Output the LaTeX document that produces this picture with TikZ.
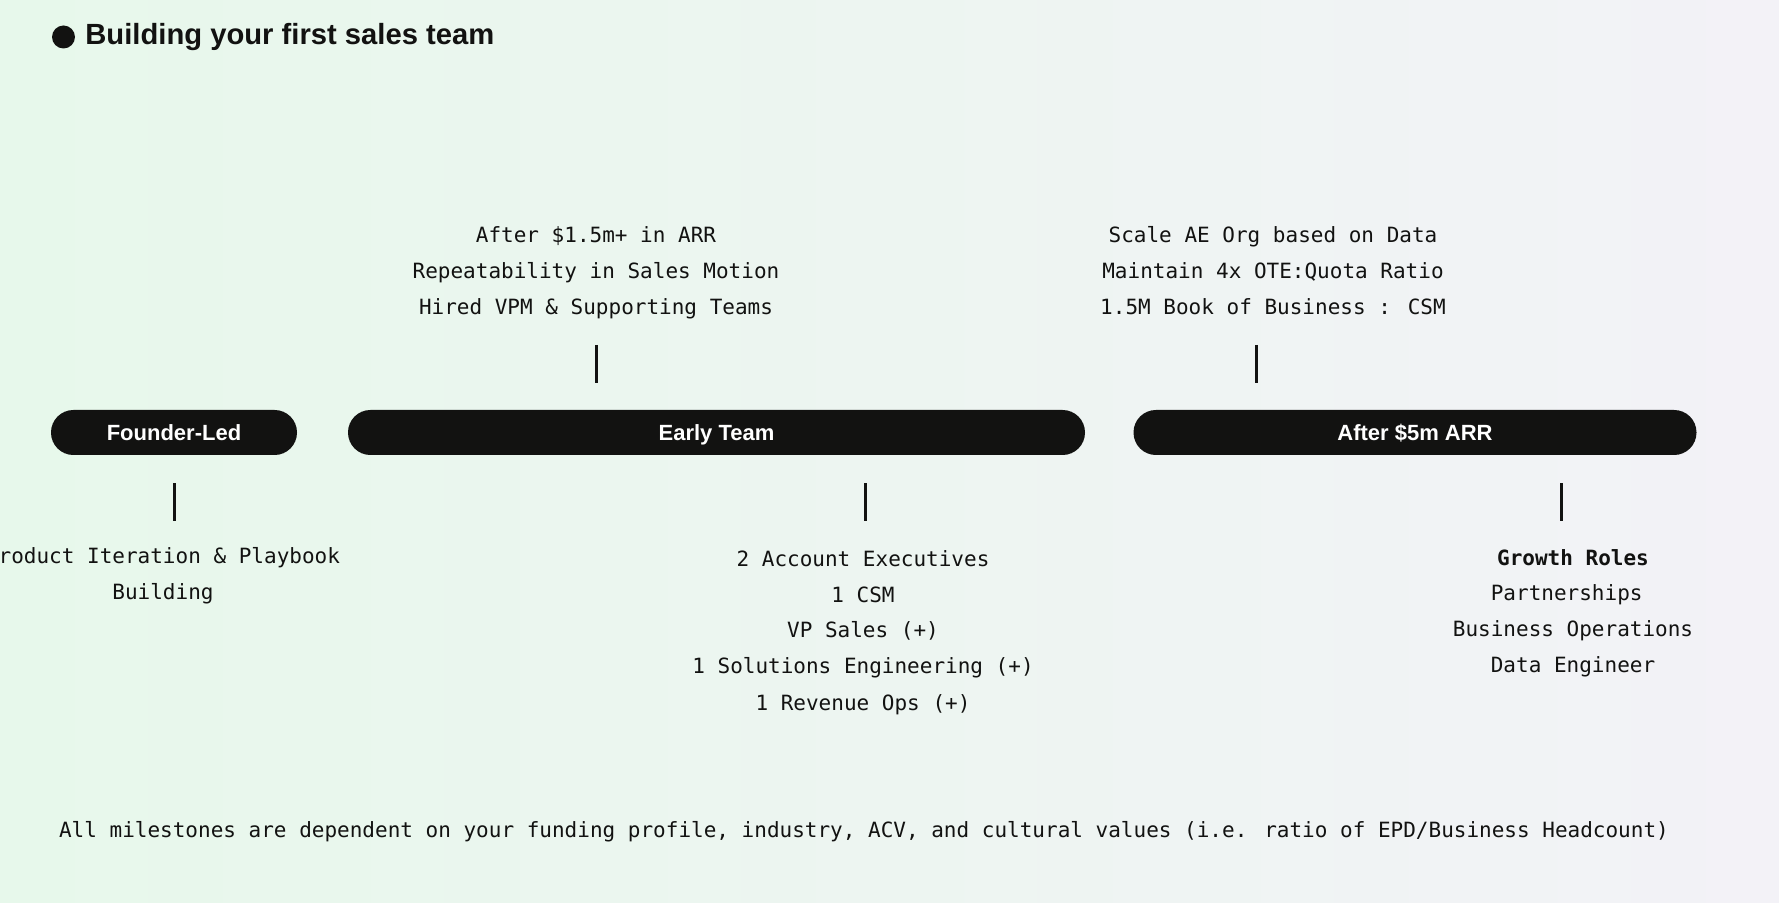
\documentclass[tikz,border=0pt]{standalone}
\usepackage{fontspec}
\setmainfont{Liberation Sans}
\newfontfamily\monofont{DejaVu Sans Mono}
\usetikzlibrary{positioning}
\definecolor{ink}{HTML}{121211}
\definecolor{bgleft}{HTML}{E7F8EB}
\definecolor{bgright}{HTML}{F3F2F7}

\begin{document}
\begin{tikzpicture}[x=0.5pt,y=-0.5pt,
  pill/.style={fill=ink,text=white,rounded corners=11.2pt,minimum height=22.5pt,inner sep=0pt,text height=8pt,text depth=0pt,font=\fontsize{11}{13}\selectfont\bfseries},
  notes/.style={align=center,inner sep=0pt,anchor=base,text=ink,font=\monofont\fontsize{10.5}{18}\selectfont},
  tick/.style={draw=ink,line width=1.5pt}]
\shade[left color=bgleft,right color=bgright] (0,0) rectangle (1779,903);
\useasboundingbox (0,0) rectangle (1779,903);
% title
\node[circle,fill=ink,minimum size=11.5pt,inner sep=0pt] (dot) at (63.5,37) {};
\node[anchor=base west,inner sep=0pt,text=ink,font=\fontsize{14.6}{16}\selectfont\bfseries] (title) at (85,45) {Building your first sales team};
% stages
\node[pill,minimum width=123pt] (founder) at (174,432.5) {Founder-Led};
\node[pill,minimum width=368.5pt] (early) at (716.5,432.5) {Early Team};
\node[pill,minimum width=281.5pt] (after) at (1415,432.5) {After \$5m ARR};
% notes above (anchored on last line)
\node[notes] (earlyup) at (596,315) {After \$1.5m+ in ARR\\Repeatability in Sales Motion\\Hired VPM \& Supporting Teams};
\node[notes] (afterup) at (1273,315) {Scale AE Org based on Data\\Maintain 4x OTE:Quota Ratio\\1.5M Book of Business : CSM};
% notes below
\node[notes] (founderdn) at (163,600) {Product Iteration \& Playbook\\Building};
\node[notes] (earlydn) at (863,710) {2 Account Executives\\1 CSM\\VP Sales (+)\\1 Solutions Engineering (+)\\1 Revenue Ops (+)};
\node[notes] (afterdn) at (1573,673) {\textbf{Growth Roles}\\Partnerships\hphantom{x}\\Business Operations\\Data Engineer};
% ticks
\coordinate (upE) at (596,345);
\coordinate (upA) at (1256,345);
\coordinate (dnF) at (174,521);
\coordinate (dnE) at (865,521);
\coordinate (dnA) at (1561,521);
\draw[tick,shorten >=13.5pt] (upE) -- (upE |- early.north);
\draw[tick,shorten >=13.5pt] (upA) -- (upA |- after.north);
\draw[tick,shorten >=14pt] (dnF) -- (dnF |- founder.south);
\draw[tick,shorten >=14pt] (dnE) -- (dnE |- early.south);
\draw[tick,shorten >=14pt] (dnA) -- (dnA |- after.south);
% footnote
\node[notes] (footer) at (864,837) {All milestones are dependent on your funding profile, industry, ACV, and cultural values (i.e. ratio of EPD/Business Headcount)};
\end{tikzpicture}
\end{document}
